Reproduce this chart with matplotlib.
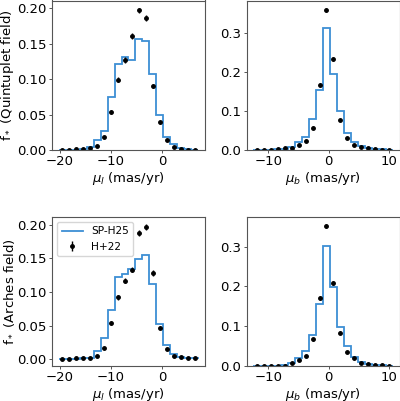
import numpy as np
import matplotlib
matplotlib.use("Agg")
import matplotlib.pyplot as plt

# ---- bins (proper-motion bins, mas/yr) ----
l_lo, l_hi = -20.13, 7.07
b_lo, b_hi = -12.45, 10.53
n_bins = 20

# ---- Quintuplet field ----
q_l_model = [0.0, 0.0, 0.0005, 0.001, 0.0047, 0.0135, 0.0275, 0.0745, 0.122, 0.131,
             0.127, 0.156, 0.154, 0.107, 0.049, 0.0185, 0.0085, 0.003, 0.001, 0.0003]
q_l_obs = [0.0003, 0.0004, 0.001, 0.002, 0.003, 0.0057, 0.0185, 0.0535, 0.0995, 0.127,
           0.161, 0.197, 0.186, 0.090, 0.039, 0.0137, 0.0047, 0.0019, 0.0005, 0.0005]
q_l_err = [0.0003, 0.0003, 0.0005, 0.0007, 0.0008, 0.001, 0.0018, 0.0028, 0.0035, 0.004,
           0.0045, 0.004, 0.004, 0.003, 0.002, 0.0012, 0.0007, 0.0005, 0.0003, 0.0003]

q_b_model = [0.0003, 0.0005, 0.0008, 0.0017, 0.003, 0.008, 0.0206, 0.0344, 0.080, 0.154,
             0.314, 0.194, 0.1006, 0.0447, 0.0206, 0.011, 0.006, 0.003, 0.0015, 0.0008]
q_b_obs = [0.0008, 0.001, 0.001, 0.0017, 0.005, 0.006, 0.012, 0.024, 0.0576, 0.167,
           0.360, 0.233, 0.0774, 0.031, 0.0138, 0.0077, 0.005, 0.002, 0.001, 0.001]
q_b_err = [0.0004, 0.0004, 0.0004, 0.0005, 0.0008, 0.0009, 0.0013, 0.0018, 0.0028, 0.0045,
           0.0055, 0.005, 0.003, 0.0018, 0.0012, 0.0009, 0.0008, 0.0005, 0.0004, 0.0004]

# ---- Arches field ----
a_l_model = [0.0, 0.0, 0.0005, 0.001, 0.0024, 0.0125, 0.032, 0.073, 0.1224, 0.127,
             0.1338, 0.1495, 0.1548, 0.1115, 0.0524, 0.0205, 0.0071, 0.0033, 0.0019, 0.001]
a_l_obs = [0.0002, 0.0003, 0.001, 0.0015, 0.0024, 0.0052, 0.0167, 0.0538, 0.0919, 0.117,
           0.133, 0.188, 0.197, 0.128, 0.0467, 0.0157, 0.0043, 0.0029, 0.0014, 0.001]
a_l_err = [0.0003, 0.0003, 0.0005, 0.0006, 0.0008, 0.001, 0.0018, 0.003, 0.0035, 0.004,
           0.004, 0.0045, 0.0045, 0.004, 0.0025, 0.0014, 0.0008, 0.0006, 0.0004, 0.0003]

a_b_model = [0.0002, 0.0003, 0.0005, 0.001, 0.003, 0.0067, 0.020, 0.0378, 0.079, 0.156,
             0.301, 0.198, 0.098, 0.050, 0.0227, 0.011, 0.006, 0.003, 0.0017, 0.0008]
a_b_obs = [0.0003, 0.0003, 0.0006, 0.0006, 0.001, 0.0076, 0.0143, 0.026, 0.067, 0.171,
           0.351, 0.208, 0.084, 0.034, 0.0193, 0.0076, 0.005, 0.0025, 0.0017, 0.001]
a_b_err = [0.0003, 0.0003, 0.0004, 0.0004, 0.0005, 0.001, 0.0014, 0.002, 0.003, 0.0045,
           0.0055, 0.0045, 0.003, 0.002, 0.0015, 0.001, 0.0008, 0.0006, 0.0005, 0.0004]

model_label = "SP-H25"
obs_label = "H+22"
xlabels = [r"$\mu_l$ (mas/yr)", r"$\mu_b$ (mas/yr)"]
ylabels = [r"f$_*$ (Quintuplet field)", r"f$_*$ (Arches field)"]

l_edges = np.linspace(l_lo, l_hi, n_bins + 1)
b_edges = np.linspace(b_lo, b_hi, n_bins + 1)

fig = plt.figure(figsize=(4.0, 4.01), dpi=100)
W, H = 400.0, 401.0
def add_ax(x0, y0, x1, y1):
    return fig.add_axes([x0 / W, 1 - y1 / H, (x1 - x0) / W, (y1 - y0) / H])

ax_ql = add_ax(52, 0.5, 205, 150)
ax_qb = add_ax(246.5, 0.5, 399.5, 150)
ax_al = add_ax(52, 217, 205, 366)
ax_ab = add_ax(246.5, 217, 399.5, 366)

line_color = "#3d8fd4"
spine_color = "#555555"

panels = [
    (ax_ql, l_edges, q_l_model, q_l_obs, q_l_err, xlabels[0], ylabels[0]),
    (ax_qb, b_edges, q_b_model, q_b_obs, q_b_err, xlabels[1], None),
    (ax_al, l_edges, a_l_model, a_l_obs, a_l_err, xlabels[0], ylabels[1]),
    (ax_ab, b_edges, a_b_model, a_b_obs, a_b_err, xlabels[1], None),
]

for ax, edges, model, obs, err, xl, yl in panels:
    centers = 0.5 * (edges[:-1] + edges[1:])
    ax.stairs(model, edges, color=line_color, lw=1.3, label=model_label)
    ax.errorbar(centers, obs, yerr=err, fmt="o", color="black", ms=2.5,
                elinewidth=1.0, capsize=0, label=obs_label)
    ax.set_xlabel(xl, fontsize=9.5, labelpad=1)
    if yl:
        ax.set_ylabel(yl, fontsize=9.5, labelpad=1)
    ax.tick_params(labelsize=9.5, length=2.2, pad=1.5, width=0.7,
                   color=spine_color)
    for s in ax.spines.values():
        s.set_color(spine_color)
        s.set_linewidth(0.8)

ax_ql.set_yticks([0.0, 0.05, 0.10, 0.15, 0.20])
ax_al.set_yticks([0.0, 0.05, 0.10, 0.15, 0.20])
ax_al.legend(loc="upper left", fontsize=7.6)

fig.savefig("out.png", dpi=100)
